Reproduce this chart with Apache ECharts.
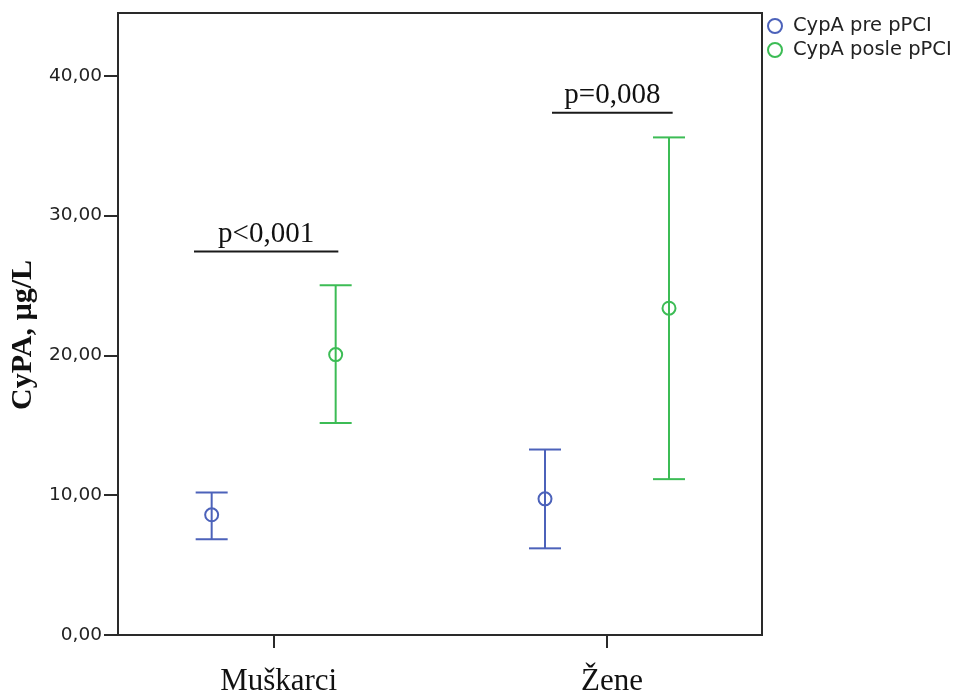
<!DOCTYPE html>
<html>
<head>
<meta charset="utf-8">
<script src="https://cdn.jsdelivr.net/npm/echarts@6/dist/echarts.min.js"></script>
<style>
  html, body { margin: 0; padding: 0; background: #fff; }
  #chart { width: 956px; height: 698px; }
</style>
</head>
<body>
<div id="chart"></div>
<script>
// Groups on the x axis
const groups = ['Muškarci', 'Žene'];

// CypA before pPCI: mean and error-bar limits (µg/L)
const preMean = [8.60, 9.74];
const preLow = [6.85, 6.20];
const preHigh = [10.19, 13.27];

// CypA after pPCI: mean and error-bar limits (µg/L)
const postMean = [20.06, 23.38];
const postLow = [15.16, 11.15];
const postHigh = [25.02, 35.60];

// Significance annotations: text, level (µg/L) and horizontal extent (group units)
const pLabels = ['p<0,001', 'p=0,008'];
const pLevel = [27.43, 37.36];
const pFrom = [-0.239, -0.165];
const pTo = [0.194, 0.197];

// Y axis tick values
const yTicks = [0, 10, 20, 30, 40];

const seriesNames = ['CypA pre pPCI', 'CypA posle pPCI'];
const colors = ['#4c62ba', '#3cbc55'];
const shift = 0.186; // side-by-side offset of the two series within a group
const frameColor = '#2a2a2a';
const serif = '"Liberation Serif", "Times New Roman", serif';
const sans = '"DejaVu Sans", sans-serif';

const chart = echarts.init(document.getElementById('chart'), null, { renderer: 'canvas' });

function points(means, dir) {
  return means.map((m, i) => [i + dir * shift, m]);
}
function bars(lows, highs, dir) {
  return lows.map((lo, i) => [i + dir * shift, lo, highs[i]]);
}

function renderErrorBar(color) {
  return function (params, api) {
    const x = api.value(0);
    const lo = api.coord([x, api.value(1)]);
    const hi = api.coord([x, api.value(2)]);
    const half = 16;
    const style = { stroke: color, lineWidth: 2 };
    return {
      type: 'group',
      children: [
        { type: 'line', shape: { x1: lo[0], y1: lo[1], x2: hi[0], y2: hi[1] }, style },
        { type: 'line', shape: { x1: hi[0] - half, y1: hi[1], x2: hi[0] + half, y2: hi[1] }, style },
        { type: 'line', shape: { x1: lo[0] - half, y1: lo[1], x2: lo[0] + half, y2: lo[1] }, style }
      ]
    };
  };
}

function renderAnnotation(params, api) {
  const a = api.coord([api.value(0), api.value(2)]);
  const b = api.coord([api.value(1), api.value(2)]);
  const idx = params.dataIndex;
  return {
    type: 'group',
    children: [
      { type: 'line', shape: { x1: a[0], y1: a[1], x2: b[0], y2: b[1] },
        style: { stroke: '#1a1a1a', lineWidth: 2 } },
      { type: 'text',
        style: {
          x: (a[0] + b[0]) / 2, y: a[1] - 3,
          text: pLabels[idx],
          align: 'center', verticalAlign: 'bottom',
          fill: '#111',
          font: '29px ' + serif
        } }
    ]
  };
}

const option = {
  animation: false,
  backgroundColor: '#fff',
  grid: {
    left: 118, right: 194, top: 13, bottom: 63,
    show: true, borderColor: frameColor, borderWidth: 2
  },
  legend: {
    orient: 'vertical',
    left: 767, top: 16, padding: 0,
    itemWidth: 14, itemHeight: 14, itemGap: 4,
    data: seriesNames.map(n => ({ name: n, icon: 'circle' })),
    itemStyle: { color: 'rgba(0,0,0,0)', borderWidth: 2, opacity: 1 },
    textStyle: {
      fontFamily: sans, fontSize: 19.5, color: '#222',
      padding: [0, 0, 0, 6]
    }
  },
  xAxis: {
    type: 'value',
    min: -0.467, max: 1.465,
    splitLine: { show: false },
    axisLine: { show: true, onZero: false, lineStyle: { color: frameColor, width: 2 } },
    axisTick: { show: true, customValues: groups.map((g, i) => i), length: 13,
                lineStyle: { color: frameColor, width: 2 } },
    axisLabel: {
      customValues: groups.map((g, i) => i),
      formatter: v => groups[Math.round(v)],
      margin: 31,
      padding: [0, 0, 0, 10],
      fontFamily: serif, fontSize: 31, color: '#111'
    }
  },
  yAxis: {
    type: 'value',
    min: 0, max: 44.5,
    name: 'CyPA, µg/L',
    nameLocation: 'middle',
    nameGap: 73,
    nameRotate: 90,
    nameTextStyle: {
      fontFamily: serif, fontSize: 30, fontWeight: 'bold', color: '#111',
      padding: [0, 22, 0, 0]
    },
    splitLine: { show: false },
    axisLine: { show: true, onZero: false, lineStyle: { color: frameColor, width: 2 } },
    axisTick: { show: true, customValues: yTicks, length: 14,
                lineStyle: { color: frameColor, width: 2 } },
    axisLabel: {
      customValues: yTicks,
      formatter: v => v.toFixed(2).replace('.', ','),
      margin: 16,
      fontFamily: sans, fontSize: 18.5, color: '#222'
    }
  },
  series: [
    {
      name: seriesNames[0], type: 'scatter',
      symbol: 'circle', symbolSize: 13,
      itemStyle: { color: 'rgba(0,0,0,0)', borderColor: colors[0], borderWidth: 2, opacity: 1 },
      data: points(preMean, -1), z: 3
    },
    {
      name: seriesNames[1], type: 'scatter',
      symbol: 'circle', symbolSize: 13,
      itemStyle: { color: 'rgba(0,0,0,0)', borderColor: colors[1], borderWidth: 2, opacity: 1 },
      data: points(postMean, 1), z: 3
    },
    {
      name: seriesNames[0], type: 'custom',
      renderItem: renderErrorBar(colors[0]),
      encode: { x: 0, y: [1, 2] },
      data: bars(preLow, preHigh, -1), z: 2
    },
    {
      name: seriesNames[1], type: 'custom',
      renderItem: renderErrorBar(colors[1]),
      encode: { x: 0, y: [1, 2] },
      data: bars(postLow, postHigh, 1), z: 2
    },
    {
      type: 'custom',
      renderItem: renderAnnotation,
      encode: { x: [0, 1], y: 2 },
      data: pLevel.map((lvl, i) => [pFrom[i] + i, pTo[i] + i, lvl]),
      silent: true, z: 2
    }
  ]
};

chart.setOption(option);
</script>
</body>
</html>
